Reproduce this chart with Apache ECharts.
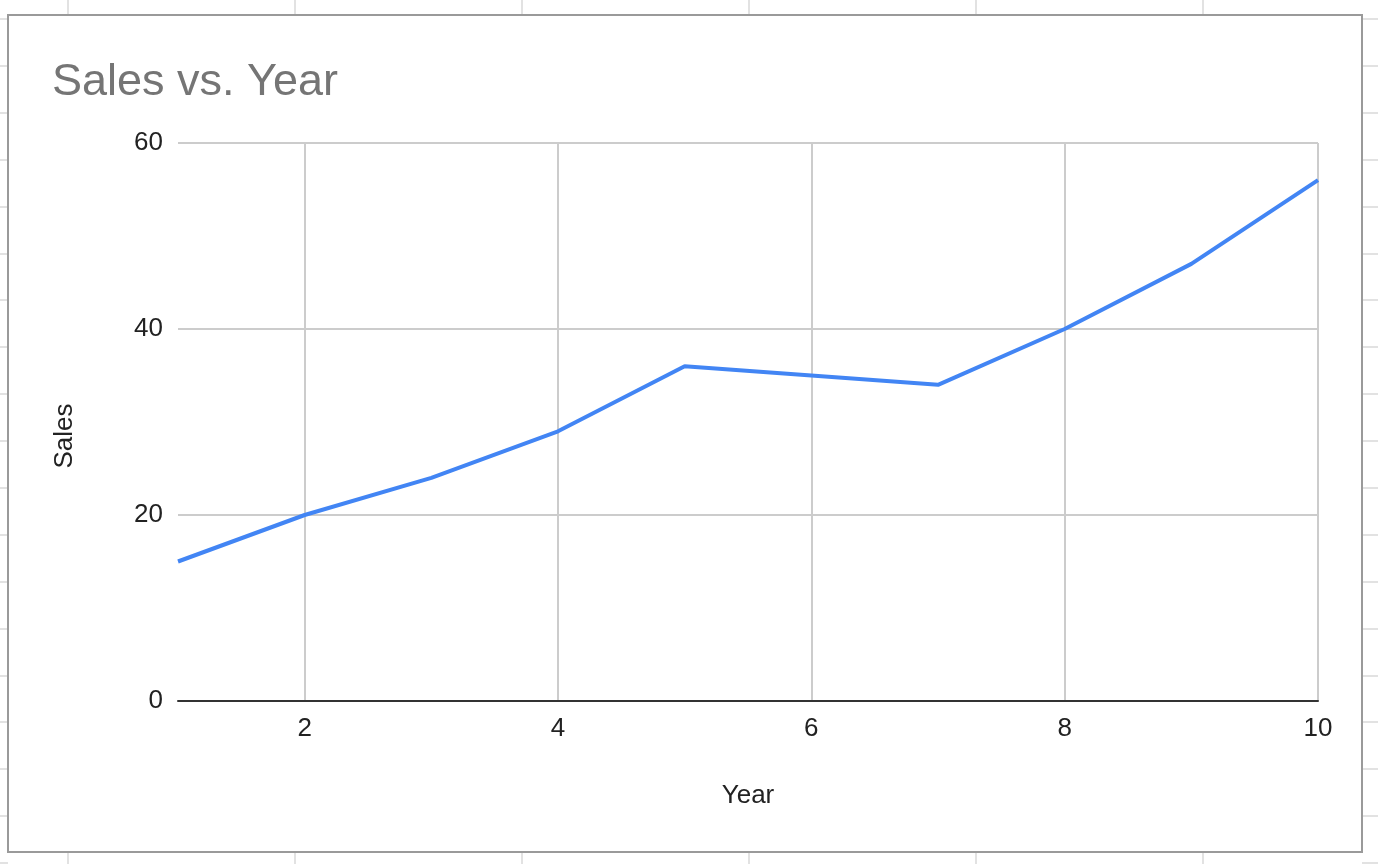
<!DOCTYPE html>
<html>
<head>
<meta charset="utf-8">
<style>
  html, body { margin: 0; padding: 0; background: #ffffff; }
  #chart { width: 1378px; height: 864px; }
</style>
<script src="https://cdn.jsdelivr.net/npm/echarts@6/dist/echarts.min.js"></script>
</head>
<body>
<div id="chart"></div>
<script>
// ---- data ----
const years = [1, 2, 3, 4, 5, 6, 7, 8, 9, 10];
const sales = [15, 20, 24, 29, 36, 35, 34, 40, 47, 56];
const chartTitle = 'Sales vs. Year';
const xName = 'Year';
const yName = 'Sales';

const FONT = '"Liberation Sans", Arial, sans-serif';

// spreadsheet background grid (decoration)
const sheetCols = [68, 295, 522, 749, 976, 1203];
const sheetRows = [];
for (let y = 19; y < 864; y += 46.9) sheetRows.push(Math.round(y));
const deco = [];
const gridColor = '#e2e2e2';
sheetCols.forEach(x => {
  deco.push({ type: 'line', shape: { x1: x, y1: 0, x2: x, y2: 15 }, style: { stroke: gridColor, lineWidth: 2 }, silent: true });
  deco.push({ type: 'line', shape: { x1: x, y1: 852, x2: x, y2: 864 }, style: { stroke: gridColor, lineWidth: 2 }, silent: true });
});
sheetRows.forEach(y => {
  deco.push({ type: 'line', shape: { x1: 0, y1: y, x2: 8, y2: y }, style: { stroke: gridColor, lineWidth: 2 }, silent: true });
  deco.push({ type: 'line', shape: { x1: 1362, y1: y, x2: 1378, y2: y }, style: { stroke: gridColor, lineWidth: 2 }, silent: true });
});
deco.push({ type: 'rect', shape: { x: 8, y: 15, width: 1354, height: 837 }, style: { fill: 'none', stroke: '#9a9a9a', lineWidth: 2 }, silent: true, z: 10 });

const chart = echarts.init(document.getElementById('chart'), null, { renderer: 'canvas' });
chart.setOption({
  animation: false,
  backgroundColor: '#ffffff',
  title: {
    text: chartTitle,
    left: 47,
    top: 55,
    textStyle: { fontFamily: FONT, fontSize: 45, fontWeight: 'normal', color: '#757575' }
  },
  graphic: deco,
  grid: { left: 178, right: 60, top: 143, bottom: 163, containLabel: false },
  xAxis: {
    type: 'value',
    min: 1,
    max: 10,
    splitNumber: 5,
    name: xName,
    nameLocation: 'middle',
    nameGap: 82,
    nameTextStyle: { fontFamily: FONT, fontSize: 26, color: '#222222', verticalAlign: 'top' },
    axisLine: { show: true, onZero: false, lineStyle: { color: '#333333', width: 2 } },
    axisTick: { show: false },
    axisLabel: { showMinLabel: false, margin: 15, fontFamily: FONT, fontSize: 26, color: '#222222' },
    splitLine: { show: true, showMinLine: false, lineStyle: { color: '#cccccc', width: 2 } }
  },
  yAxis: {
    type: 'value',
    min: 0,
    max: 60,
    interval: 20,
    name: yName,
    nameLocation: 'middle',
    nameGap: 100,
    nameRotate: 90,
    nameTextStyle: { fontFamily: FONT, fontSize: 26, color: '#222222', padding: [0, 28, 0, 0] },
    axisLine: { show: false },
    axisTick: { show: false },
    axisLabel: { margin: 15, padding: [4, 0, 0, 0], fontFamily: FONT, fontSize: 26, color: '#222222' },
    splitLine: { show: true, lineStyle: { color: '#cccccc', width: 2 } }
  },
  series: [{
    type: 'line',
    data: years.map((x, i) => [x, sales[i]]),
    showSymbol: false,
    symbol: 'none',
    lineStyle: { color: '#4285f4', width: 4 },
    z: 5
  }]
});
</script>
</body>
</html>
